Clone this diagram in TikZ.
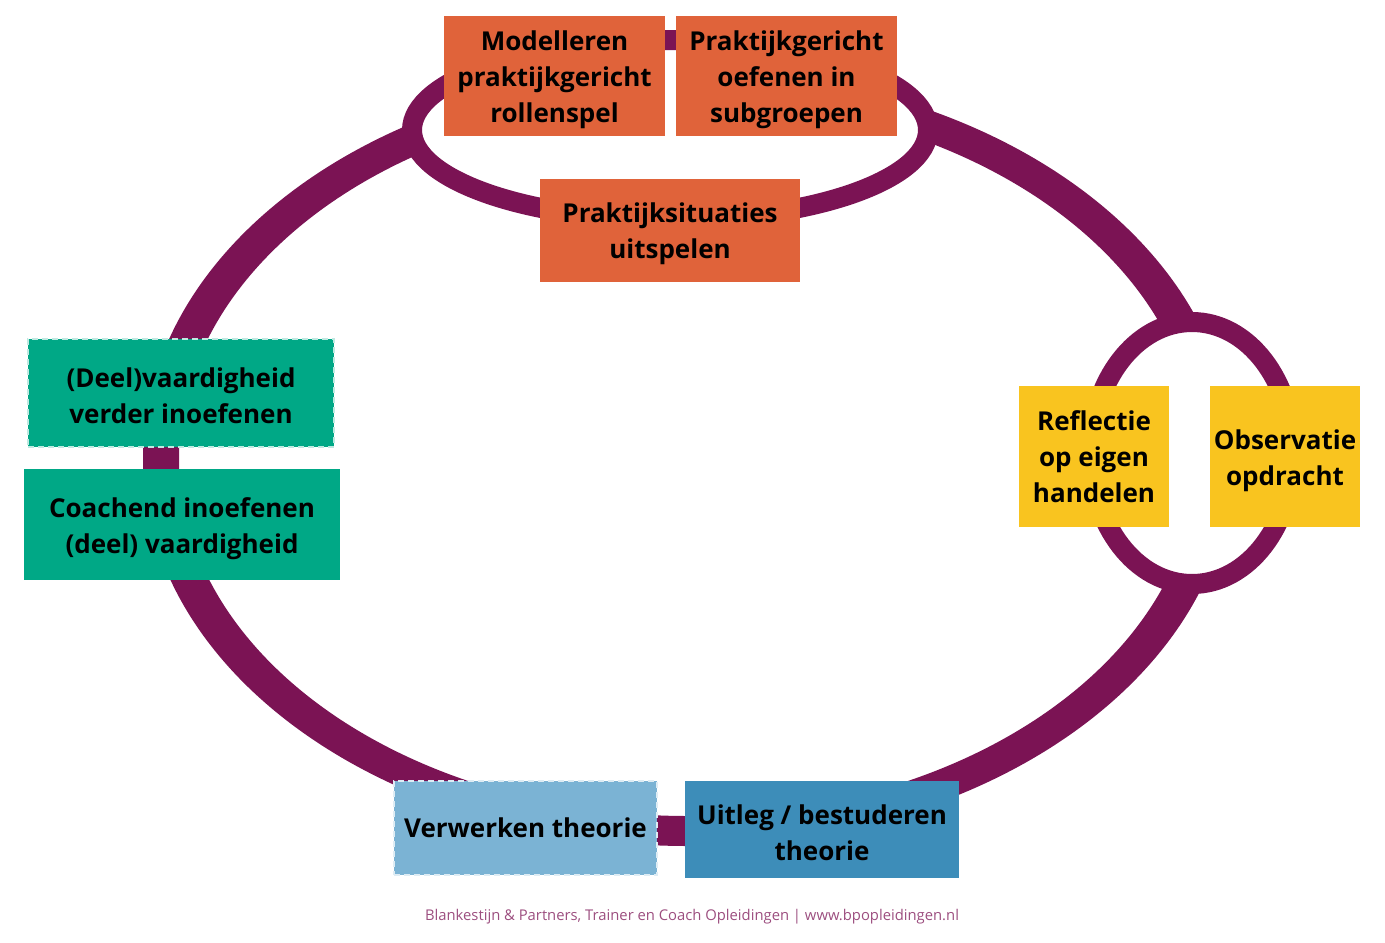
\documentclass[tikz,border=0pt]{standalone}
\usepackage{fontspec}
\setmainfont{Open Sans}
\usepackage{xcolor}
\usepackage{tikz}
\usetikzlibrary{shapes, positioning}

\definecolor{ringpaars}{HTML}{7B1354}
\definecolor{oranje}{HTML}{E0633A}
\definecolor{geel}{HTML}{F9C41F}
\definecolor{groen}{HTML}{00A886}
\definecolor{lichtblauw}{HTML}{7BB3D4}
\definecolor{blauw}{HTML}{3D8DB9}

% eerste regel iets lager zetten
\newcommand{\zakregel}[1][14pt]{\rule{0pt}{#1}}

\begin{document}
\begin{tikzpicture}[x=0.5pt, y=-0.5pt,
    blok/.style={rectangle, inner sep=0pt, align=center, text=black,
        font=\bfseries\fontsize{13}{18}\selectfont},
    stippelblok/.style={blok, fill=#1, draw=white!75!#1, line width=1pt, dash pattern=on 3pt off 2pt},
    lus/.style={ellipse, draw=ringpaars, line width=10pt, fill=white, inner sep=0pt}]
    \useasboundingbox (0,0) rectangle (1385,942);

    % grote ring
    \fill[ringpaars, even odd rule] (688,458) ellipse [x radius=272.5pt, y radius=194pt]
        (688,458) ellipse [x radius=254.5pt, y radius=179pt];

    % kleine lussen
    \node[lus, minimum width=258pt, minimum height=90pt] (toplus) at (670,130) {};
    \node[lus, minimum width=101pt, minimum height=131pt] (rechtslus) at (1192,453) {};

    % bovenkant
    \node[blok, fill=oranje, minimum width=110.5pt, minimum height=60pt] (modelleren) at (554.5,76)
        {\zakregel Modelleren\\praktijkgericht\\rollenspel};
    \node[blok, fill=oranje, minimum width=110.5pt, minimum height=60pt] (oefenen) at (786.5,76)
        {\zakregel Praktijkgericht\\oefenen in\\subgroepen};
    \node[blok, fill=oranje, minimum width=130pt, minimum height=51.5pt] (uitspelen) at (670,230.5)
        {\zakregel[13pt]Praktijksituaties\\uitspelen};

    % rechts
    \node[blok, fill=geel, minimum width=75pt, minimum height=70.5pt] (reflectie) at (1094,456.5)
        {Reflectie\\op eigen\\handelen};
    \node[blok, fill=geel, minimum width=75pt, minimum height=70.5pt] (observatie) at (1285,456.5)
        {\zakregel Observatie\\opdracht};

    % links
    \node[stippelblok=groen, minimum width=153pt, minimum height=54pt] (deel) at (181,393)
        {\zakregel[13pt](Deel)vaardigheid\\verder inoefenen};
    \node[blok, fill=groen, minimum width=158pt, minimum height=55.5pt] (coachend) at (182,524.5)
        {\zakregel Coachend inoefenen\\(deel) vaardigheid};

    % onderkant
    \node[stippelblok=lichtblauw, minimum width=131.5pt, minimum height=47pt] (verwerken) at (525.5,828)
        {Verwerken theorie};
    \node[blok, fill=blauw, minimum width=137pt, minimum height=48.5pt] (uitleg) at (822,829.5)
        {\zakregel[13pt]Uitleg / bestuderen\\theorie};

    \node[text=ringpaars!75, font=\fontsize{7.4}{8}\selectfont] (voet) at (692,917)
        {Blankestijn \& Partners, Trainer en Coach Opleidingen | www.bpopleidingen.nl};
\end{tikzpicture}
\end{document}
